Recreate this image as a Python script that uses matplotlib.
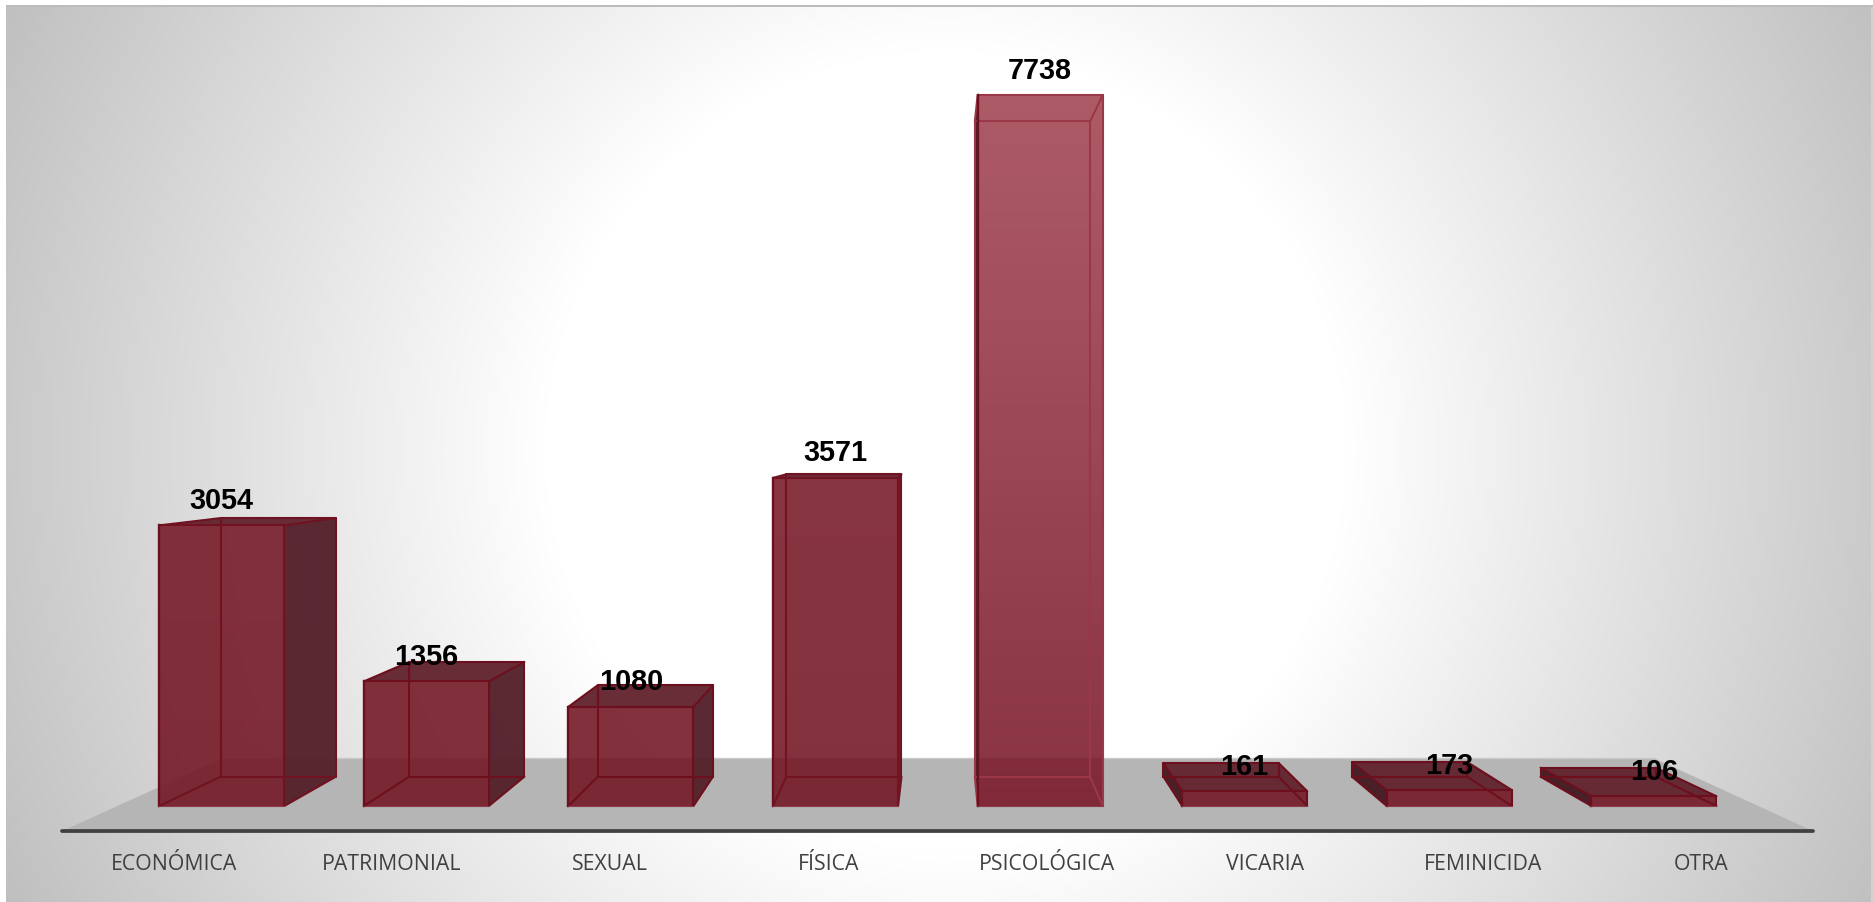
"""3D-style bar chart of violence types, drawn with a simple perspective projection."""

import matplotlib
matplotlib.use("Agg")
import matplotlib.pyplot as plt
from matplotlib.patches import Polygon
import numpy as np

categories = ["ECONÓMICA", "PATRIMONIAL", "SEXUAL", "FÍSICA", "PSICOLÓGICA", "VICARIA", "FEMINICIDA", "OTRA"]
values = [3054, 1356, 1080, 3571, 7738, 161, 173, 106]

WIDTH, HEIGHT = 1873, 902
BASE_PX = 806  # pixel row of value 0 on the front plane
AXIS_PX = 831
PX_PER_VALUE = 0.09188
PX_PER_SLOT = 204.6
FIRST_SLOT_PX = 221.75

VANISH_X = 3.52
VANISH_Y = 4070
BACK_SCALE = 0.9216
FLOOR_FRONT_SCALE = 1.0668
FLOOR_BACK_SCALE = 0.8717
BAR_WIDTH = 0.611

EDGE = "#6e0f1e"
SIDE_RIGHT = "#54202a"
SIDE_TOP = "#62242e"
SIDE_LEFT = "#451a22"


def project(x, y, scale):
    return VANISH_X + scale * (x - VANISH_X), VANISH_Y + scale * (y - VANISH_Y)


def lerp(a, b, t):
    return a + (b - a) * t


def draw_background(fig):
    axis = fig.add_axes([0, 0, 1, 1], zorder=0)
    axis.axis("off")
    yy, xx = np.mgrid[0:HEIGHT, 0:WIDTH]
    radius = np.hypot(xx - 945, yy - 450)
    grey = np.clip(255 - 0.099 * (radius - 400), 0, 255) / 255
    image = np.dstack([grey, grey, grey])
    image[:, -2:] = 0.82
    image[:, :6] = 1.0
    image[:5, :] = 1.0
    image[5:7, 6:] = 0.74
    axis.imshow(image, extent=(0, WIDTH, HEIGHT, 0), aspect="auto", interpolation="nearest")


def draw_bar(axis, slot, value):
    light = (value / max(values)) ** 3
    left, right = slot - BAR_WIDTH / 2, slot + BAR_WIDTH / 2

    fl, fb = project(left, 0, 1)
    fr, ft = project(right, value, 1)
    bl, bb = project(left, 0, BACK_SCALE)
    br, bt = project(right, value, BACK_SCALE)

    # faces that stick out beyond the front rectangle
    if br > fr:
        axis.add_patch(Polygon([(fr, ft), (br, bt), (br, bb), (fr, fb)], fc=SIDE_RIGHT, ec="none", alpha=0.96, zorder=3))
    if bl < fl:
        axis.add_patch(Polygon([(fl, ft), (bl, bt), (bl, bb), (fl, fb)], fc=SIDE_LEFT, ec="none", alpha=0.96, zorder=3))
    if bt > ft:
        axis.add_patch(Polygon([(fl, ft), (fr, ft), (br, bt), (bl, bt)], fc=SIDE_TOP, ec="none", alpha=0.96, zorder=3))

    bottom_rgb = np.array([lerp(0x72, 0x78, light), lerp(0x14, 0x16, light), lerp(0x22, 0x28, light)]) / 255
    top_rgb = np.array([lerp(0x72, 0xa3, light), lerp(0x14, 0x44, light), lerp(0x22, 0x53, light)]) / 255
    ramp = np.linspace(0, 1, 256)[:, None]
    rgba = np.dstack([bottom_rgb[k] + (top_rgb[k] - bottom_rgb[k]) * ramp for k in range(3)] + [np.full((256, 1), 0.88)])
    axis.imshow(rgba, extent=(fl, fr, fb, ft), origin="lower", aspect="auto", zorder=4, interpolation="bilinear")

    edge_color = tuple(lerp(c, t, light * 0.55) for c, t in zip(matplotlib.colors.to_rgb(EDGE), (0.75, 0.35, 0.42)))
    inner = dict(color=edge_color, linewidth=1.5, zorder=5, solid_capstyle="round")
    axis.plot([bl, br, br, bl, bl], [bb, bb, bt, bt, bb], **inner)
    axis.plot([fl, bl], [fb, bb], **inner)
    axis.plot([fr, br], [fb, bb], **inner)
    axis.plot([fl, bl], [ft, bt], **inner)
    axis.plot([fr, br], [ft, bt], **inner)
    axis.plot([fl, fr], [ft, ft], **inner)
    axis.plot([fr, fr], [ft, fb], **inner)
    axis.plot([fl, fl], [ft, fb], color=EDGE, linewidth=1.7, zorder=5)
    axis.plot([fl, fr], [fb, fb], color="#8a3a48", linewidth=0.8, zorder=5)

    axis.annotate(
        str(value), xy=(slot, value), xytext=(0, 19.8), textcoords="offset points",
        ha="center", va="center_baseline", fontsize=20.8, fontweight="bold",
        family="Liberation Sans", color="black", zorder=6,
    )


def main():
    fig = plt.figure(figsize=(WIDTH / 100, HEIGHT / 100), dpi=100)
    draw_background(fig)

    axis = fig.add_axes([0, (HEIGHT - AXIS_PX) / HEIGHT, 1, AXIS_PX / HEIGHT], zorder=1)
    axis.patch.set_visible(False)
    axis.set_xlim(-FIRST_SLOT_PX / PX_PER_SLOT, (WIDTH - FIRST_SLOT_PX) / PX_PER_SLOT)
    axis.set_ylim((BASE_PX - AXIS_PX) / PX_PER_VALUE, BASE_PX / PX_PER_VALUE)
    axis.autoscale(False)

    floor_left, floor_right = -0.51, len(values) - 0.49
    front_l = project(floor_left, 0, FLOOR_FRONT_SCALE)
    front_r = project(floor_right, 0, FLOOR_FRONT_SCALE)
    back_l = project(floor_left, 0, FLOOR_BACK_SCALE)
    back_r = project(floor_right, 0, FLOOR_BACK_SCALE)
    axis.add_patch(Polygon([front_l, front_r, back_r, back_l], fc="#b5b5b5", ec="none", zorder=2))
    axis.plot([back_l[0], back_r[0]], [back_l[1], back_r[1]], color="#c9c9c9", linewidth=1, zorder=2)

    for slot, value in enumerate(values):
        draw_bar(axis, slot, value)

    for name, spine in axis.spines.items():
        spine.set_visible(name == "bottom")
    axis.spines["bottom"].set_bounds(front_l[0], front_r[0])
    axis.spines["bottom"].set_color("#404040")
    axis.spines["bottom"].set_linewidth(2.7)
    axis.spines["bottom"].set_capstyle("round")

    tick_positions = [project(slot, 0, FLOOR_FRONT_SCALE)[0] for slot in range(len(values))]
    axis.set_xticks(tick_positions)
    axis.set_xticklabels(categories, family="Open Sans", fontsize=15.3, color="#404040", va="baseline")
    axis.tick_params(axis="x", length=0, pad=28)
    axis.set_yticks([])

    fig.savefig("out.png", dpi=100)


if __name__ == "__main__":
    main()
